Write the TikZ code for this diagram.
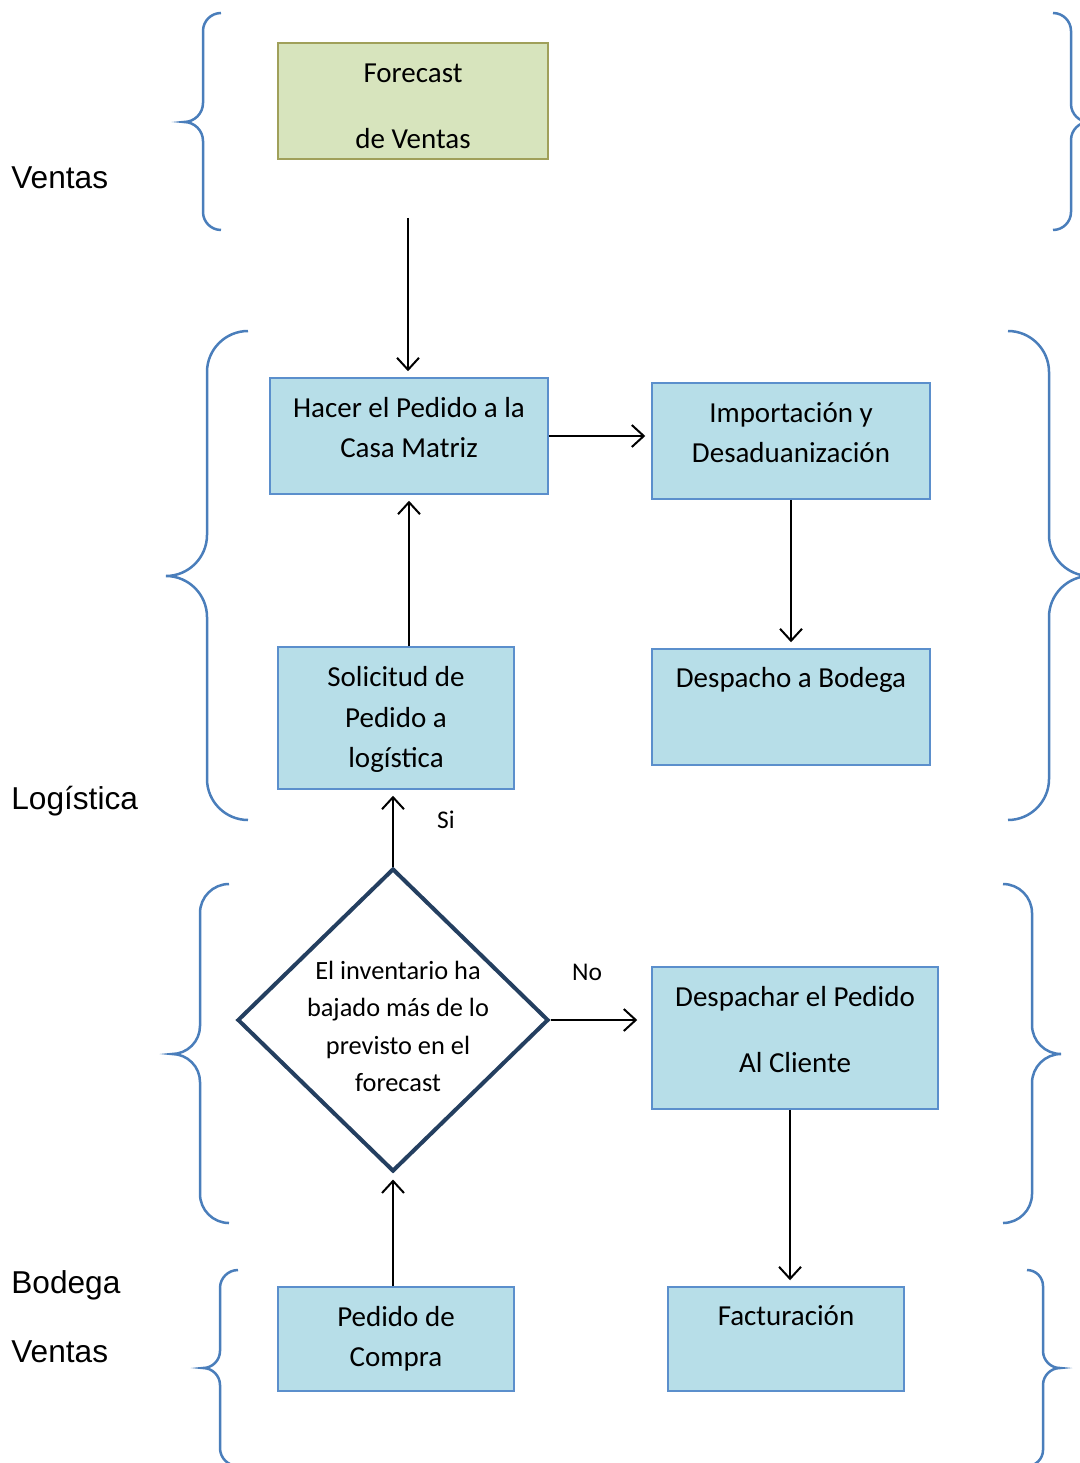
\documentclass[tikz,border=0pt]{standalone}
\usepackage{fontspec}
\setmainfont{Carlito}
\newfontfamily\arial{Liberation Sans}
\usetikzlibrary{shapes.geometric,arrows.meta}

\definecolor{azulllave}{HTML}{4A7EBB}
\definecolor{celeste}{HTML}{B7DEE8}
\definecolor{bordeazul}{HTML}{5B8FCC}
\definecolor{verdeclaro}{HTML}{D7E4BD}
\definecolor{bordeverde}{HTML}{A0A05A}
\definecolor{azulrombo}{HTML}{243F60}

\newcommand{\llave}[6]{%
	\draw[llavec] (#1,#4) .. controls ({#1+0.55*(#2-#1)},#4) and (#2,{#4+0.45*abs(#1-#2)}) .. (#2,{#4+abs(#1-#2)})
		-- (#2,{#5-abs(#3-#2)}) .. controls (#2,{#5-0.45*abs(#3-#2)}) and ({#3+0.55*(#2-#3)},#5) .. (#3,#5)
		.. controls ({#3+0.55*(#2-#3)},#5) and (#2,{#5+0.45*abs(#3-#2)}) .. (#2,{#5+abs(#3-#2)})
		-- (#2,{#6-abs(#1-#2)}) .. controls (#2,{#6-0.45*abs(#1-#2)}) and ({#1+0.55*(#2-#1)},#6) .. (#1,#6);}
\newcommand{\texto}[3]{\makebox[0pt]{\hspace*{#1}\raisebox{#2}[0pt][0pt]{\begin{tabular}{@{}c@{}}#3\end{tabular}}\hspace*{-#1}}}

\begin{document}
\begin{tikzpicture}[x=0.2mm, y=-0.2mm,
		>={Straight Barb[length=2.4mm,width=4.4mm]},
		llavec/.style={draw=azulllave, line width=0.5mm},
		caja/.style={rectangle, draw=bordeazul, fill=celeste, line width=0.3mm, inner sep=0pt, font=\fontsize{16.5}{23.2}\selectfont},
		verde/.style={caja, draw=bordeverde, fill=verdeclaro},
		rombo/.style={diamond, draw=azulrombo, line width=0.8mm, inner sep=0pt, font=\fontsize{15}{21.3}\selectfont},
		etiqueta/.style={inner sep=0pt, font=\arial\fontsize{18}{22}\selectfont},
		flecha/.style={->, line width=0.4mm, shorten >=1.2mm}]
			\useasboundingbox (0,0) rectangle (1080,1463);

			\llave{221}{203}{184}{13}{122}{230}
			\llave{1053}{1071}{1089}{13}{122}{230}
			\llave{248}{207}{166}{331}{576}{820}
			\llave{1008}{1049}{1090}{331}{576}{820}
			\llave{229}{200}{172}{884}{1054}{1223}
			\llave{1003}{1032}{1061}{884}{1054}{1223}
			\llave{238}{220}{203}{1270}{1368}{1466}
			\llave{1027}{1043}{1060}{1270}{1368}{1466}

			\node (ventas)[etiqueta, anchor=base west] at (11,189) {Ventas};
			\node (logistica)[etiqueta, anchor=base west] at (11,809) {Logística};
			\node (bodega)[etiqueta, anchor=base west] at (11,1293) {Bodega};
			\node (ventas2)[etiqueta, anchor=base west] at (11,1362) {Ventas};

			\node (forecast)[verde, minimum width=54mm, minimum height=23.2mm] at (413,101) {\texto{0mm}{-2.8mm}{Forecast\\[14.8pt] de Ventas}};
			\node (hacer)[caja, minimum width=55.6mm, minimum height=23.2mm] at (409,436) {\texto{0mm}{-0.2mm}{Hacer el Pedido a la\\ Casa Matriz}};
			\node (impor)[caja, minimum width=55.6mm, minimum height=23.2mm] at (791,441) {\texto{0mm}{-0.2mm}{Importación y\\ Desaduanización}};
			\node (sol)[caja, minimum width=47.2mm, minimum height=28.4mm] at (396,718) {\texto{0mm}{-1.7mm}{Solicitud de\\ Pedido a\\ logística}};
			\node (despa)[caja, minimum width=55.6mm, minimum height=23.2mm] at (791,707) {\texto{0mm}{4.1mm}{Despacho a Bodega}};
			\node (inv)[rombo, minimum width=62.2mm, minimum height=60.6mm] at (393,1020) {\texto{1mm}{-2.9mm}{El inventario ha\\ bajado más de lo\\ previsto en el\\ forecast}};
			\node (desp)[caja, minimum width=57.2mm, minimum height=28.4mm] at (795,1038) {\texto{0mm}{-0.2mm}{Despachar el Pedido\\[14.8pt] Al Cliente}};
			\node (ped)[caja, minimum width=47.2mm, minimum height=20.8mm] at (396,1339) {\texto{0mm}{-1.4mm}{Pedido de\\ Compra}};
			\node (fact)[caja, minimum width=47.2mm, minimum height=20.8mm] at (786,1339) {\texto{0mm}{2.9mm}{Facturación}};

			\node (si)[font=\fontsize{14.5}{17}\selectfont] at (446,820) {Si};
			\node (no)[font=\fontsize{14.5}{17}\selectfont] at (587,972) {No};

			\coordinate (ini) at (408,218);
			\coordinate (d1) at ([xshift=-1mm]desp.south);
			\draw [flecha](ini) -- (ini |- hacer.north);
			\draw [flecha](hacer.east) -- (hacer.east -| impor.west);
			\draw [flecha](impor)edge (despa);
			\draw [flecha](sol.north -| hacer.south) -- (hacer.south);
			\draw [flecha](inv.north) -- (inv.north |- sol.south);
			\draw [flecha, shorten >=2.8mm](inv.east) -- (inv.east -| desp.west);
			\draw [flecha](d1) -- (d1 |- fact.north);
			\draw [flecha](ped.north -| inv.south) -- (inv.south);
		\end{tikzpicture}
\end{document}
